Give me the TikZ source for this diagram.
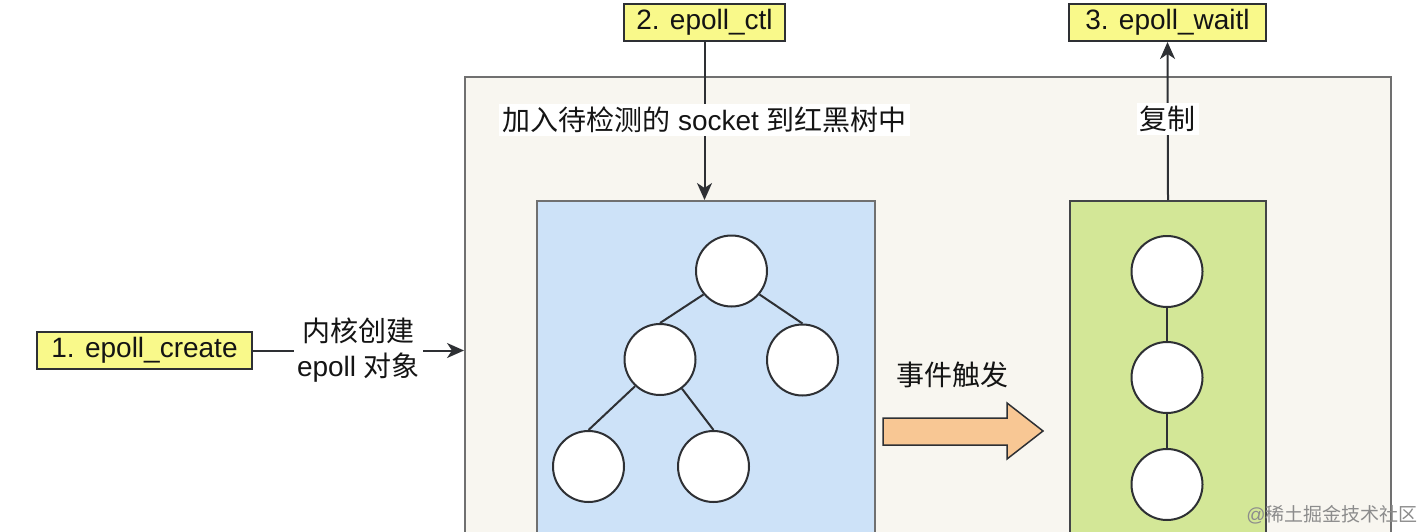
\documentclass[tikz,border=0pt]{standalone}
\usepackage{fontspec}
\setmainfont{Liberation Sans}
\newfontfamily\cjk{Noto Sans CJK SC}
\usetikzlibrary{arrows.meta}
\definecolor{apiyellow}{HTML}{F9F98A}
\definecolor{kernelbg}{HTML}{F8F6F0}
\definecolor{treeblue}{HTML}{CDE2F8}
\definecolor{listgreen}{HTML}{D3E797}
\definecolor{evtorange}{HTML}{F8C794}
\definecolor{edgegray}{HTML}{707070}
\definecolor{darkedge}{HTML}{2E3034}
\definecolor{txt}{HTML}{141414}
\begin{document}
\begin{tikzpicture}[x=1pt,y=-1pt,
  font=\fontsize{28}{35}\selectfont,
  api/.style={draw=darkedge, fill=apiyellow, line width=2pt, inner sep=0pt,
    minimum height=37pt, text=txt},
  region/.style={line width=2pt, inner sep=0pt, anchor=north west},
  tnode/.style={circle, draw=darkedge, fill=white, line width=2pt,
    minimum size=71pt, inner sep=0pt},
  conn/.style={draw=darkedge, line width=2pt, -{Stealth[length=17pt,width=15pt,inset=5pt]}},
  tline/.style={draw=darkedge, line width=2pt},
  lbl/.style={fill=white, inner sep=3pt, text=txt, align=center},
  evtarrow/.style={fill=evtorange, draw=darkedge, line width=1.5pt, line join=miter},
]
\useasboundingbox (0,0) rectangle (1418,532);
\clip (0,0) rectangle (1418,532);
\fill[white] (0,0) rectangle (1418,532);

% kernel region and inner containers
\node[region, draw=edgegray, fill=kernelbg, minimum width=926pt, minimum height=560pt] (kernel) at (464,76) {};
\node[region, draw=edgegray, fill=treeblue, minimum width=338pt, minimum height=400pt] (tree) at (536,200) {};
\node[region, draw=darkedge!90, fill=listgreen, minimum width=196pt, minimum height=400pt] (list) at (1069,200) {};

% API boxes
\node[api, minimum width=215pt] (create) at (144.5,350.5) {1. epoll\_create};
\node[api, minimum width=161pt] (ctl) at (704.5,22.5) {2. epoll\_ctl};
\node[api, minimum width=197pt] (waitl) at (1167.5,22.5) {3. epoll\_waitl};

% connectors
\draw[conn] (create.east) -- node[lbl] {{\cjk 内核创建}\\epoll {\cjk 对象}} (create.east -| kernel.west);
\draw[conn] (ctl.south) -- node[lbl, yshift=1pt] {{\cjk 加入待检测的} socket {\cjk 到红黑树中}} (ctl.south |- tree.north);
\draw[conn] (list.north) -- node[lbl, yshift=2pt] {\cjk 复制} (waitl.south);

% red-black tree
\node[tnode] (r) at (731.5,271) {};
\node[tnode] (a) at (660,359.5) {};
\node[tnode] (b) at (802.5,360) {};
\node[tnode] (c) at (588.5,466.5) {};
\node[tnode] (d) at (713.5,466.5) {};
\draw[tline] (r.220) -- (a.north);
\draw[tline] (r.320) -- (b.north);
\draw[tline] (a.227) -- (c.north);
\draw[tline] (a.307) -- (d.north);

% ready list
\node[tnode] (l1) at (1167,271.5) {};
\node[tnode] (l2) at (1167,377.5) {};
\node[tnode] (l3) at (1167,484.5) {};
\draw[tline] (l1) -- (l2);
\draw[tline] (l2) -- (l3);

% event trigger
\node[text=txt] (evt) at (952.5,375) {\cjk 事件触发};
\draw[evtarrow] (883,418) -- (1007,418) -- (1007,403) -- (1043,431) -- (1007,459) -- (1007,445) -- (883,445) -- cycle;

% watermark
\node[text=black!45, font=\fontsize{19}{22}\selectfont] (wm) at (1332,515) {@{\cjk 稀土掘金技术社区}};
\end{tikzpicture}
\end{document}
